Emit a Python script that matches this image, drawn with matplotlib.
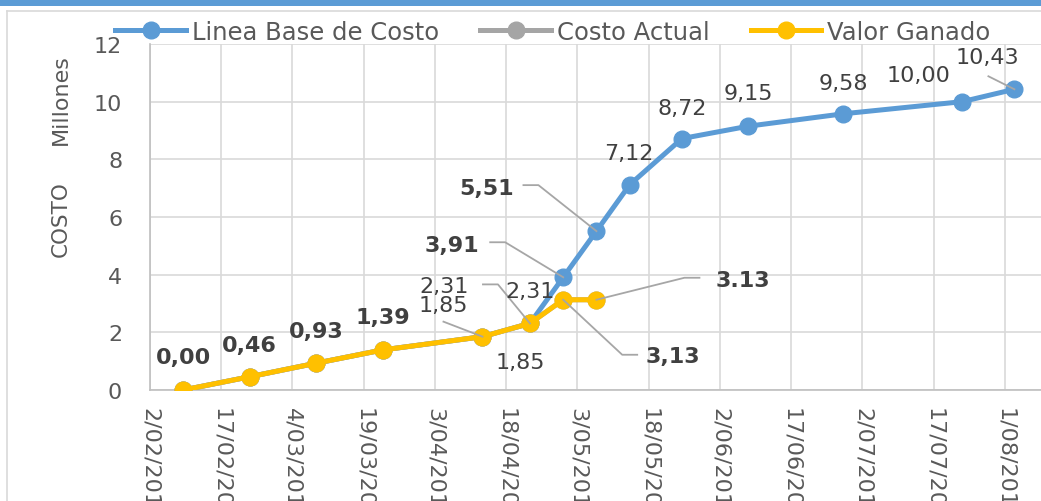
import numpy as np
import pandas as pd
import matplotlib
matplotlib.use("Agg")
import matplotlib.pyplot as plt
import matplotlib.dates as mdates
from matplotlib.transforms import IdentityTransform, ScaledTranslation
from matplotlib.patches import Rectangle
from matplotlib.lines import Line2D

# ── data ──────────────────────────────────────────────────────────────── #
base_dates = ["2013-02-09", "2013-02-23", "2013-03-09", "2013-03-23", "2013-04-13",
              "2013-04-23", "2013-04-30", "2013-05-07", "2013-05-14", "2013-05-25",
              "2013-06-08", "2013-06-28", "2013-07-23", "2013-08-03"]
base_vals = [0.00, 0.46, 0.93, 1.39, 1.85, 2.31, 3.91, 5.51, 7.12, 8.72,
             9.15, 9.58, 10.00, 10.43]

actual_dates = ["2013-02-09", "2013-02-23", "2013-03-09", "2013-03-23", "2013-04-13",
                "2013-04-23", "2013-04-30", "2013-05-07"]
actual_vals = [0.00, 0.46, 0.93, 1.39, 1.85, 2.31, 3.13, 3.13]

earned_dates = actual_dates
earned_vals = [0.00, 0.46, 0.93, 1.39, 1.85, 2.31, 3.13, 3.13]

tick_start, tick_end = "2013-02-02", "2013-08-01"
y_ticks = [0, 2, 4, 6, 8, 10, 12]

BLUE, GREY, GOLD = "#5B9BD5", "#A5A5A5", "#FFC000"
TXT = "#404040"
LEAD = "#A6A6A6"

plt.rcParams["font.family"] = ["DejaVu Sans"]

fig = plt.figure(figsize=(10.41, 5.02), dpi=100)
W, H = 1041, 502
ax = fig.add_axes([150 / W, 1 - 391 / H, 891 / W, (391 - 45) / H])

bd = pd.to_datetime(base_dates)
ad = pd.to_datetime(actual_dates)
ed = pd.to_datetime(earned_dates)

kw = dict(lw=3.6, marker="o", ms=12, solid_capstyle="round")
ax.plot(bd, base_vals, color=BLUE, zorder=3, **kw)
ax.plot(ad, actual_vals, color=GREY, zorder=4, **kw)
ax.plot(ed, earned_vals, color=GOLD, zorder=5, **kw)

# ── axes ─────────────────────────────────────────────────────────────── #
t0 = pd.Timestamp(tick_start)
ticks = pd.date_range(tick_start, tick_end, freq="15D")
ax.set_xlim(t0, t0 + pd.Timedelta(days=187.6))
ax.set_ylim(0, 12)
ax.set_xticks(ticks)
ax.set_xticklabels([f"{d.day}/{d.month:02d}/{d.year}" for d in ticks],
                   rotation=-90, ha="center", va="top")
ax.set_yticks(y_ticks)
ax.tick_params(axis="x", length=0, pad=12, labelsize=16, labelcolor="#595959")
ax.tick_params(axis="y", length=0, pad=20, labelsize=16, labelcolor="#595959")
ax.grid(True, color="#D9D9D9", lw=1.2, zorder=0)
ax.set_axisbelow(True)
for s in ["top", "right"]:
    ax.spines[s].set_visible(False)
for s in ["left", "bottom"]:
    ax.spines[s].set_color("#BFBFBF")
    ax.spines[s].set_linewidth(1.2)

fig.text(61 / W, 1 - 219 / H, "COSTO", rotation=90, ha="center", va="center",
         fontsize=15.5, color="#595959")
fig.text(61 / W, 1 - 100 / H, "Millones", rotation=90, ha="center", va="center",
         fontsize=16, color="#595959")

# ── data labels (offsets in pixels from the point) ───────────────────── #
def label(x, y, text, dx, dy, bold=False, leader=None):
    ax.annotate(text, (x, y), xytext=(dx, dy), textcoords="offset pixels",
                ha="center", va="center", fontsize=16, color=TXT,
                fontweight="bold" if bold else "normal", zorder=7)
    if leader:
        tr = IdentityTransform() + ScaledTranslation(mdates.date2num(x), y, ax.transData)
        xs = [p[0] for p in leader] + [0]
        ys = [p[1] for p in leader] + [0]
        ax.add_line(Line2D(xs, ys, transform=tr, color=LEAD, lw=1.3, zorder=6))

label(ed[0], earned_vals[0], "0,00", 0, 33, bold=True)
label(ed[1], earned_vals[1], "0,46", 0, 32, bold=True)
label(ed[2], earned_vals[2], "0,93", 0, 32, bold=True)
label(ed[3], earned_vals[3], "1,39", 0, 33, bold=True)
label(bd[4], base_vals[4], "1,85", -39, 32, leader=[(-39, 15)])
label(bd[5], base_vals[5], "2,31", -86, 37, leader=[(-47, 39), (-32, 39)])
label(ed[5], earned_vals[5], "2,31", 0, 32)
label(ad[5], actual_vals[5], "1,85", -10, -39)
label(bd[6], base_vals[6], "3,91", -111, 32, bold=True, leader=[(-73, 35), (-58, 35)])
label(bd[7], base_vals[7], "5,51", -110, 43, bold=True, leader=[(-73, 46), (-58, 46)])
label(ed[7], earned_vals[7], "3.13", 146, 20, bold=True, leader=[(103, 22), (88, 22)])
label(ad[6], actual_vals[6], "3,13", 110, -56, bold=True, leader=[(74, -55), (59, -55)])
label(bd[8], base_vals[8], "7,12", -1, 32)
label(bd[9], base_vals[9], "8,72", 0, 31)
label(bd[10], base_vals[10], "9,15", 0, 33)
label(bd[11], base_vals[11], "9,58", 0, 31)
label(bd[12], base_vals[12], "10,00", -44, 27)
label(bd[13], base_vals[13], "10,43", -27, 32, leader=[(-26, 13)])

# ── legend ───────────────────────────────────────────────────────────── #
handles = [Line2D([], [], color=c, lw=3.6, marker="o", ms=12) for c in (BLUE, GREY, GOLD)]
fig.legend(handles, ["Linea Base de Costo", "Costo Actual", "Valor Ganado"],
           loc="center", bbox_to_anchor=(553 / W, 1 - 33 / H), ncol=3, frameon=False,
           fontsize=17.5, labelcolor="#595959", handlelength=2.9, handletextpad=0.25,
           columnspacing=1.7)

# ── chart frame ──────────────────────────────────────────────────────── #
fig.add_artist(Rectangle((0, 1 - 7 / H), 1, 7 / H, transform=fig.transFigure,
                         color=BLUE, lw=0))
fig.add_artist(Line2D([7 / W, 1], [1 - 12 / H, 1 - 12 / H], transform=fig.transFigure,
                      color="#D9D9D9", lw=1.2))
fig.add_artist(Line2D([7 / W, 7 / W], [0, 1 - 12 / H], transform=fig.transFigure,
                      color="#D9D9D9", lw=1.2))

fig.savefig("out.png", dpi=100)
